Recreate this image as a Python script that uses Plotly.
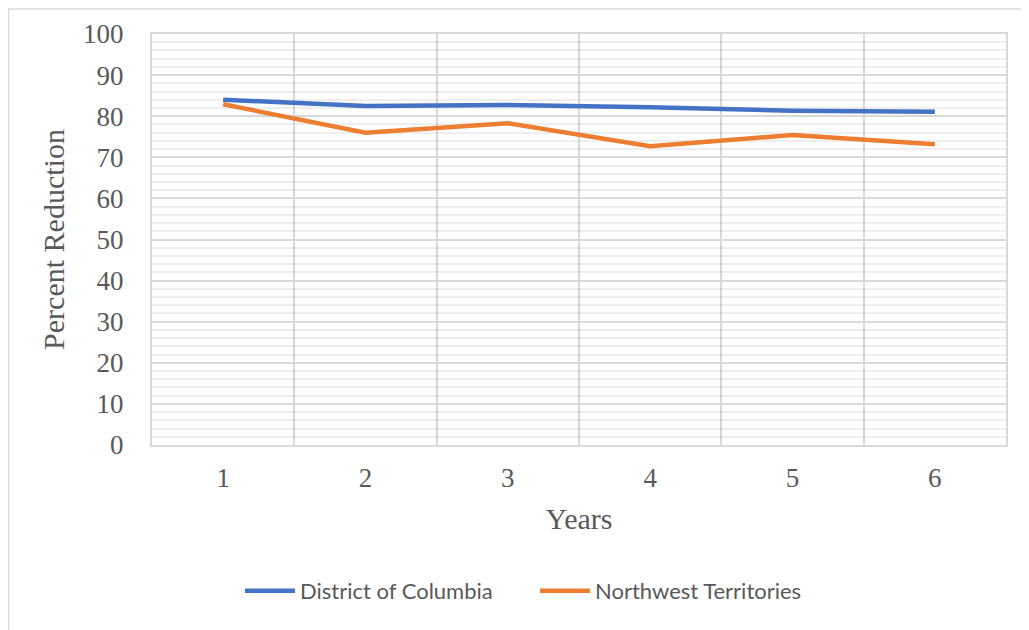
import plotly.graph_objs as go

years = [1, 2, 3, 4, 5, 6]
dc_values = [84.0, 82.5, 82.7, 82.2, 81.3, 81.1]
nwt_values = [82.9, 76.0, 78.3, 72.7, 75.4, 73.2]
y_ticks = [0, 10, 20, 30, 40, 50, 60, 70, 80, 90, 100]

serif = "Liberation Serif, Times New Roman, serif"
grey = "#595959"

fig = go.Figure()
fig.add_trace(go.Scatter(x=years, y=dc_values, name="District of Columbia", mode="lines",
                         line=dict(width=4.5, color="#4472C4")))
fig.add_trace(go.Scatter(x=years, y=nwt_values, name="Northwest Territories", mode="lines",
                         line=dict(width=4.5, color="#ED7D31")))

# the page body has an 8px margin, so the figure is offset by 8px
fig.update_layout(
    width=1029, height=630,
    paper_bgcolor="white", plot_bgcolor="white",
    margin=dict(l=144, r=31, t=26, b=193),
    showlegend=True,
    legend=dict(orientation="h", x=(240 - 152) / 854, xanchor="left", y=-0.355, yanchor="middle",
                font=dict(family="Lato, Open Sans, sans-serif", size=22, color=grey),
                itemwidth=50, entrywidth=230),
    shapes=[dict(type="rect", xref="paper", yref="paper",
                 x0=-143.5 / 854, x1=1.1, y0=-1.0, y1=1 + 25 / 411,
                 line=dict(color="#d9d9d9", width=1.5), layer="below")],
)
fig.update_xaxes(
    range=[0.5, 6.5], tickvals=years, ticktext=[str(v) for v in years],
    showgrid=False, zeroline=False,
    ticks="outside", ticklen=8, tickcolor="rgba(0,0,0,0)",
    tickfont=dict(family=serif, size=27, color=grey),
    title=dict(text="Years", font=dict(family=serif, size=30, color=grey), standoff=16),
    showline=True, linecolor="#d9d9d9", linewidth=2, mirror=True,
    minor=dict(tick0=0.5, dtick=1, showgrid=True, gridcolor="#d9d9d9", gridwidth=2),
)
fig.update_yaxes(
    range=[0, 100], tickvals=y_ticks, ticktext=[str(v) for v in y_ticks],
    showgrid=True, gridcolor="#d9d9d9", gridwidth=2, zeroline=False,
    ticks="outside", ticklen=21, tickcolor="rgba(0,0,0,0)",
    tickfont=dict(family=serif, size=27, color=grey),
    title=dict(text="Percent Reduction", font=dict(family=serif, size=30, color=grey), standoff=10),
    showline=True, linecolor="#d9d9d9", linewidth=2, mirror=True,
    minor=dict(tick0=0, dtick=2, showgrid=True, gridcolor="rgba(0,0,0,0.065)", gridwidth=2),
)

fig.write_html("out.html")
